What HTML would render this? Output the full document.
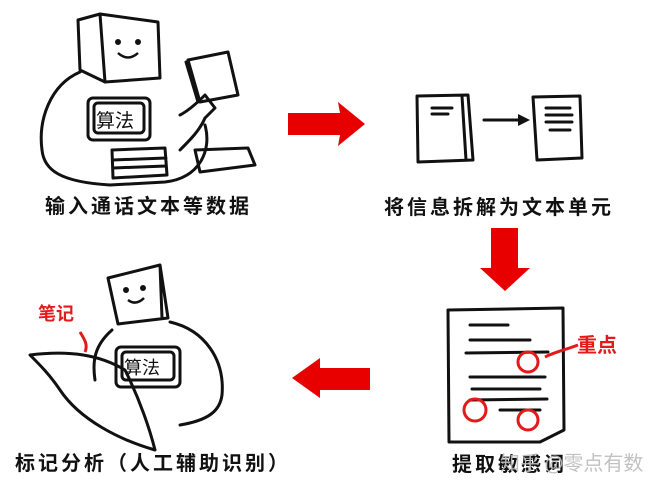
<!DOCTYPE html>
<html><head><meta charset="utf-8"><style>
html,body{margin:0;padding:0;background:#fff;width:649px;height:492px;overflow:hidden}
svg{display:block}
.l{font-family:"Liberation Sans","Noto Sans CJK SC",sans-serif;font-size:20px;fill:#111;font-weight:bold;letter-spacing:3px}
</style></head><body>
<svg width="649" height="492" viewBox="0 0 649 492" xmlns="http://www.w3.org/2000/svg">
<g fill="none" stroke="#111" stroke-width="3" stroke-linecap="round" stroke-linejoin="round">
<!-- robot 1 -->
<path d="M78 20 L100 14 L158 22 L160 78 L105 82 L80 70 Z"/>
<path d="M100 14 L105 82"/>
<path d="M80 72 C50 85 38 120 42 150 C44 170 60 182 110 185 L165 182 C200 178 212 150 205 125"/>
<path d="M180 115 C190 110 200 100 205 95 L215 108 L205 118 C200 130 190 140 180 150"/>
<rect x="88" y="98" width="62" height="42" rx="5"/>
<rect x="94" y="103" width="50" height="30" rx="4"/>
<path d="M112 150 L165 148 L167 175 L113 178 Z M113 160 L166 158 M113 168 L166 166"/>
<path d="M188 60 L228 52 L238 95 L200 102 Z M186 62 L198 102"/>
<path d="M195 150 L248 148 L255 165 L200 172 Z"/>
<!-- books -->
<path d="M417 96 L468 95 L473 160 L418 162 Z M462 96 L466 160"/>
<path d="M432 108 L452 108 M432 114 L448 114"/>
<path d="M484 120 L522 120"/>
<path d="M533 97 L580 96 L582 158 L537 160 Z"/>
<path d="M546 108 L570 108 M546 115 L572 115 M546 122 L572 122 M550 130 L570 130"/>
<!-- doc bottom right -->
<path d="M448 310 L563 308 L564 430 L540 442 L449 442 Z"/>
<path d="M470 325 L508 325 M470 340 L530 340 M466 353 L548 352 M470 377 L545 377 M472 389 L540 389 M470 400 L547 399 M500 410 L540 410"/>
<!-- robot 2 -->
<path d="M108 278 L160 265 L168 318 L118 324 Z M160 265 L162 318"/>
<path d="M112 330 C95 345 92 360 95 380 M170 322 C205 330 225 360 222 395 C220 410 210 420 180 425"/>
<rect x="116" y="347" width="64" height="40" rx="5"/>
<rect x="122" y="352" width="52" height="28" rx="4"/>
<path d="M30 355 C70 350 100 355 125 370 C140 400 150 430 155 450 C120 440 80 420 60 390 C50 375 40 365 30 355 Z"/>
</g>
<g fill="#111">
<circle cx="118" cy="42" r="3"/><circle cx="138" cy="42" r="3"/>
<circle cx="126" cy="290" r="3"/><circle cx="143" cy="288" r="3"/>
<path d="M518 114 L530 120 L518 126 Z"/>
</g>
<path d="M118 53 Q128 62 138 53" fill="none" stroke="#111" stroke-width="2.5"/>
<path d="M128 300 Q136 306 144 298" fill="none" stroke="#111" stroke-width="2.5"/>
<text x="96" y="127" font-family="'Noto Sans CJK SC',sans-serif" font-size="19" fill="#111">算法</text>
<text x="124" y="374" font-family="'Noto Sans CJK SC',sans-serif" font-size="18" fill="#111">算法</text>
<!-- red arrows -->
<g fill="#e80000">
<path d="M288 113 L340 113 L338 102 L365 124 L338 146 L340 135 L288 135 Z"/>
<path d="M491 228 L518 228 L518 268 L530 268 L505 291 L480 268 L491 268 Z"/>
<path d="M370 368 L320 368 L320 358 L292 378 L320 398 L320 390 L370 390 Z"/>
</g>
<g fill="none" stroke="#e21a1a" stroke-width="3">
<circle cx="528" cy="362" r="10"/><circle cx="475" cy="410" r="11"/><circle cx="528" cy="420" r="10"/>
<path d="M578 345 C565 350 555 352 545 357"/>
<path d="M80 332 C85 340 88 345 85 352"/>
</g>
<text x="577" y="352" font-family="'Noto Sans CJK SC',sans-serif" font-size="20" fill="#e21a1a" font-weight="bold">重点</text>
<text x="38" y="320" font-family="'Noto Sans CJK SC',sans-serif" font-size="18" fill="#e21a1a" font-weight="bold">笔记</text>
<text class="l" x="45" y="213">输入通话文本等数据</text>
<text class="l" x="384" y="214">将信息拆解为文本单元</text>
<text class="l" x="452" y="471">提取敏感词</text>
<text x="500" y="470" font-family="'Noto Sans CJK SC',sans-serif" font-size="20" fill="#bbb" opacity="0.9">知乎 @零点有数</text>
<text class="l" x="15" y="470">标记分析（人工辅助识别）</text>
</svg>
</body></html>
